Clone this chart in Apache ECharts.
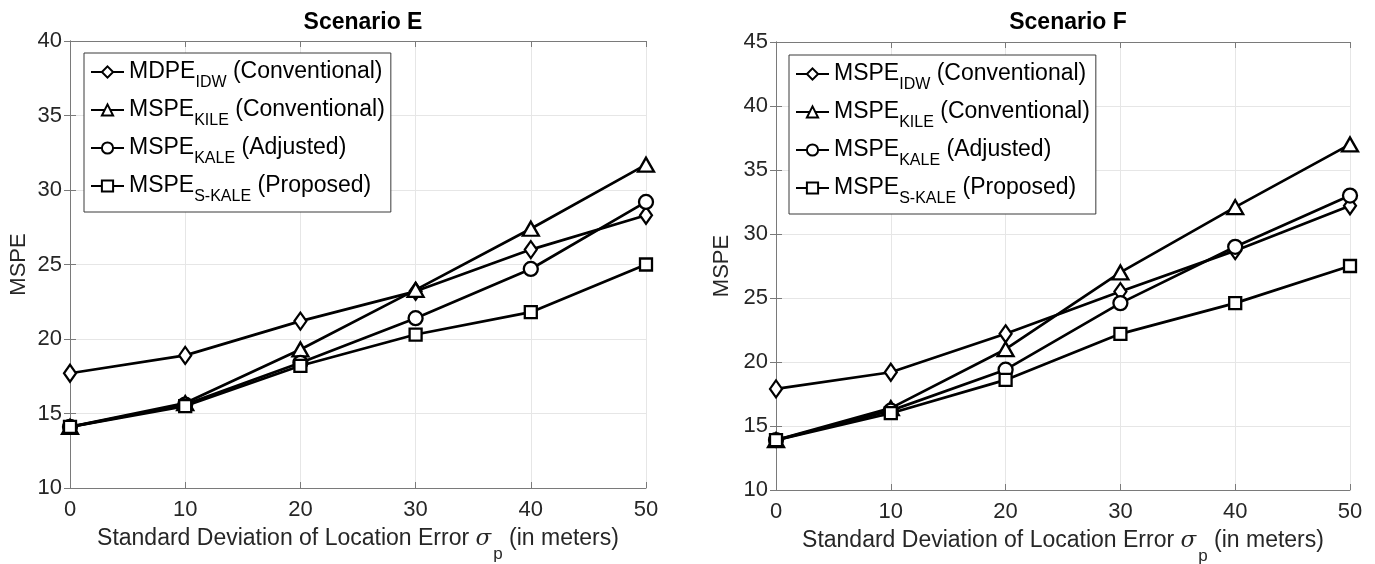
<!DOCTYPE html>
<html>
<head>
<meta charset="utf-8">
<script src="https://cdn.jsdelivr.net/npm/echarts@6/dist/echarts.min.js"></script>
<style>
  html, body { margin: 0; padding: 0; background: #ffffff; }
  #chart { width: 1375px; height: 564px; }
</style>
</head>
<body>
<div id="chart"></div>
<script>
// Standard deviation of location error (m)
const xValues = [0, 10, 20, 30, 40, 50];

// Scenario E
const namesE = ['MDPE_IDW (Conventional)', 'MSPE_KILE (Conventional)', 'MSPE_KALE (Adjusted)', 'MSPE_S-KALE (Proposed)'];
const eIdw   = [17.7, 18.9, 21.2, 23.2, 26.0, 28.3];
const eKile  = [14.1, 15.7, 19.3, 23.3, 27.4, 31.7];
const eKale  = [14.1, 15.6, 18.4, 21.4, 24.7, 29.2];
const eSKale = [14.1, 15.5, 18.2, 20.3, 21.8, 25.0];

// Scenario F
const namesF = ['MSPE_IDW (Conventional)', 'MSPE_KILE (Conventional)', 'MSPE_KALE (Adjusted)', 'MSPE_S-KALE (Proposed)'];
const fIdw   = [17.9, 19.2, 22.2, 25.5, 28.7, 32.2];
const fKile  = [13.9, 16.4, 21.0, 27.0, 32.1, 37.0];
const fKale  = [13.9, 16.2, 19.4, 24.6, 29.0, 33.0];
const fSKale = [13.9, 16.0, 18.6, 22.2, 24.6, 27.5];

const titles = ['Scenario E', 'Scenario F'];
const yLimits = [[10, 40], [10, 45]];
const yName = 'MSPE';

const FONT = "'Liberation Sans', Arial, Helvetica, sans-serif";
const markers = [
  { symbol: 'diamond', size: [12, 17] },
  { symbol: 'triangle', size: [16, 14] },
  { symbol: 'circle', size: 14 },
  { symbol: 'rect', size: 12 }
];

function richName(name) {
  const i = name.indexOf('_');
  const j = name.indexOf(' ', i);
  return '{m|' + name.slice(0, i) + '}{s|' + name.slice(i + 1, j) + '}{m|' + name.slice(j) + '}';
}

const grids = [
  { left: 70, right: 729, top: 41, bottom: 76, outerBoundsMode: 'none', containLabel: false },
  { left: 776, right: 25, top: 42, bottom: 74, outerBoundsMode: 'none', containLabel: false }
];

const axisGray = '#7a7a7a';
const textGray = '#262626';
const xName = '{a|Standard Deviation of Location Error }{g|σ}{p|p}{a| (in meters)}';

const xAxes = [], yAxes = [];
grids.forEach((g, gi) => {
  const common = {
    type: 'value', gridIndex: gi,
    axisLine: { show: true, lineStyle: { color: axisGray, width: 1 } },
    axisTick: { show: true, inside: true, length: 6, lineStyle: { color: axisGray } }
  };
  xAxes.push(Object.assign({}, common, {
    position: 'bottom', min: 0, max: 50, interval: 10,
    axisLabel: { color: textGray, fontSize: 22, fontFamily: FONT, margin: 11 },
    splitLine: { show: true, lineStyle: { color: '#e6e6e6', width: 1 } },
    name: xName, nameLocation: 'middle', nameGap: 36, nameMoveOverlap: false,
    nameTextStyle: {
      rich: {
        a: { fontSize: 23, fontFamily: FONT, color: textGray, lineHeight: 30 },
        g: { fontSize: 23, fontFamily: "'DejaVu Serif', serif", fontStyle: 'italic', color: textGray, lineHeight: 30 },
        p: { fontSize: 17, fontFamily: FONT, color: textGray, lineHeight: 30, padding: [30, 0, 0, 2] }
      }
    }
  }));
  xAxes.push(Object.assign({}, common, {
    position: 'top', min: 0, max: 50, interval: 10,
    axisLabel: { show: false }, splitLine: { show: false }
  }));
  yAxes.push(Object.assign({}, common, {
    position: 'left', min: yLimits[gi][0], max: yLimits[gi][1], interval: 5,
    axisLabel: { color: textGray, fontSize: 22, fontFamily: FONT, margin: 8 },
    splitLine: { show: true, lineStyle: { color: '#e6e6e6', width: 1 } },
    name: yName, nameLocation: 'middle', nameGap: gi === 0 ? 40 : 43,
    nameTextStyle: { fontSize: 22, fontFamily: FONT, color: textGray }
  }));
  yAxes.push(Object.assign({}, common, {
    position: 'right', min: yLimits[gi][0], max: yLimits[gi][1], interval: 5,
    axisLabel: { show: false }, splitLine: { show: false }
  }));
});

function makeSeries(names, dataSets, gi) {
  return dataSets.map((vals, k) => ({
    type: 'line',
    name: names[k],
    xAxisIndex: gi * 2,
    yAxisIndex: gi * 2,
    data: xValues.map((x, i) => [x, vals[i]]),
    symbol: markers[k].symbol,
    symbolSize: markers[k].size,
    showAllSymbol: true,
    lineStyle: { color: '#000', width: 2.7 },
    itemStyle: { color: '#ffffff', borderColor: '#000', borderWidth: 2.3 },
    emphasis: { disabled: true },
    animation: false,
    z: 3 + k
  }));
}

const series = [
  ...makeSeries(namesE, [eIdw, eKile, eKale, eSKale], 0),
  ...makeSeries(namesF, [fIdw, fKile, fKale, fSKale], 1)
];

function legendFor(names, left, top) {
  return {
    data: names,
    orient: 'vertical',
    left: left, top: top,
    itemWidth: 33, itemHeight: 14, itemGap: 0,
    padding: [0, 6, 7, 6],
    backgroundColor: '#ffffff',
    borderColor: '#3a3a3a', borderWidth: 1, borderRadius: 0,
    selectedMode: false,
    formatter: richName,
    textStyle: {
      rich: {
        m: { fontSize: 23, fontFamily: FONT, color: '#000', lineHeight: 30 },
        s: { fontSize: 16, fontFamily: FONT, color: '#000', lineHeight: 30, padding: [22, 0, 0, 0] }
      }
    }
  };
}

const option = {
  backgroundColor: '#ffffff',
  animation: false,
  title: titles.map((t, gi) => ({
    text: t,
    left: gi === 0 ? 358 : 1063,
    top: 6,
    textAlign: 'center',
    textStyle: { fontSize: 23, fontWeight: 'bold', fontFamily: FONT, color: '#000' }
  })),
  legend: [legendFor(namesE, 84, 53), legendFor(namesF, 789, 55)],
  grid: grids,
  xAxis: xAxes,
  yAxis: yAxes,
  series: series
};

const chart = echarts.init(document.getElementById('chart'), null, { renderer: 'canvas' });
chart.setOption(option);
</script>
</body>
</html>
